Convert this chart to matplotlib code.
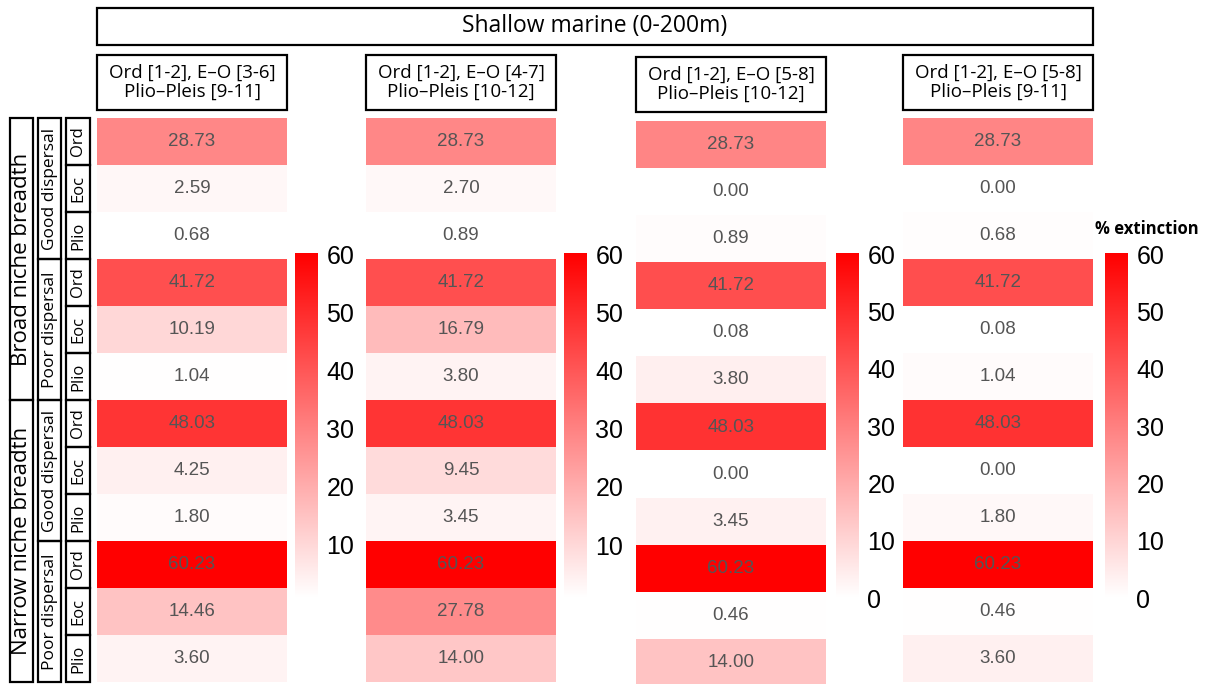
import matplotlib
matplotlib.use("Agg")
import matplotlib.pyplot as plt
import numpy as np
from matplotlib.colors import LinearSegmentedColormap
from matplotlib.patches import Rectangle

W, H = 1211, 684
FONT = "Open Sans"
NUM = "Liberation Sans"

title = "Shallow marine (0-200m)"
col_headers = ["Ord [1-2], E\u2013O [3-6]\nPlio\u2013Pleis [9-11]",
               "Ord [1-2], E\u2013O [4-7]\nPlio\u2013Pleis [10-12]",
               "Ord [1-2], E\u2013O [5-8]\nPlio\u2013Pleis [10-12]",
               "Ord [1-2], E\u2013O [5-8]\nPlio\u2013Pleis [9-11]"]
niche = ["Broad niche breadth", "Narrow niche breadth"]
dispersal = ["Good dispersal", "Poor dispersal"]
periods = ["Ord", "Eoc", "Plio"]

col1 = [28.73, 2.59, 0.68, 41.72, 10.19, 1.04, 48.03, 4.25, 1.80, 60.23, 14.46, 3.60]
col2 = [28.73, 2.70, 0.89, 41.72, 16.79, 3.80, 48.03, 9.45, 3.45, 60.23, 27.78, 14.00]
col3 = [28.73, 0.00, 0.89, 41.72, 0.08, 3.80, 48.03, 0.00, 3.45, 60.23, 0.46, 14.00]
col4 = [28.73, 0.00, 0.68, 41.72, 0.08, 1.04, 48.03, 0.00, 1.80, 60.23, 0.46, 3.60]
columns = [col1, col2, col3, col4]

cmap = LinearSegmentedColormap.from_list("wr", ["#FFFFFF", "#FF0000"])

fig = plt.figure(figsize=(W / 100, H / 100), dpi=100)


def box(x0, y0, x1, y1):
    # pixel coords (top-left origin) -> figure fraction
    return [x0 / W, 1 - y1 / H, (x1 - x0) / W, (y1 - y0) / H]


# overlay for frames and labels, drawn in pixel units
ov = fig.add_axes([0, 0, 1, 1], zorder=5)
ov.set_xlim(0, W); ov.set_ylim(H, 0); ov.axis("off")


def frame(x0, y0, x1, y1, txt, size, rot=0):
    ov.add_patch(Rectangle((x0, y0), x1 - x0, y1 - y0, fill=False,
                           edgecolor="black", linewidth=1.6))
    ov.text((x0 + x1) / 2, (y0 + y1) / 2, txt, ha="center", va="center",
            rotation=rot, fontsize=size, family=FONT, linespacing=1.1)


frame(97, 8, 1093, 45, title, 16.5)

col_x = [97, 366, 636, 903]
hdr_y = [(55, 110), (55, 110), (57, 112), (55, 110)]
cell_y = [(118, 682), (118, 682), (121, 686), (118, 682)]
cb_x = [295, 564, 836, 1105]
cw = 190

for k, vals in enumerate(columns):
    x0 = col_x[k]
    frame(x0, hdr_y[k][0], x0 + cw, hdr_y[k][1], col_headers[k], 13.5)

    v = np.array(vals)
    vmin, vmax = v.min(), v.max()
    ax = fig.add_axes(box(x0, cell_y[k][0], x0 + cw, cell_y[k][1]))
    im = ax.imshow(v.reshape(-1, 1), cmap=cmap, vmin=vmin, vmax=vmax,
                   aspect="auto", interpolation="nearest")
    for i, val in enumerate(vals):
        ax.text(0, i, f"{val:.2f}", ha="center", va="center",
                fontsize=13.5, color="#555555", family=NUM)
    ax.axis("off")

    cax = fig.add_axes(box(cb_x[k], 253, cb_x[k] + 23, 598))
    cb = fig.colorbar(im, cax=cax)
    cb.outline.set_visible(False)
    cb.set_ticks([t for t in range(0, 61, 10) if t >= vmin])
    cax.tick_params(length=0, labelsize=18, pad=6)
    for lab in cax.get_yticklabels():
        lab.set_family(NUM)

ov.text(1147, 229, "% extinction", ha="center", va="center",
        fontsize=12, fontweight="bold", family=FONT)

# row labels on the left
top, rh = 118, 47
for a in range(2):
    y0 = top + a * 6 * rh
    frame(10, y0, 33, y0 + 6 * rh, niche[a], 16, rot=90)
    for b in range(2):
        y1 = y0 + b * 3 * rh
        frame(38, y1, 61, y1 + 3 * rh, dispersal[b], 12.5, rot=90)
        for c in range(3):
            y2 = y1 + c * rh
            frame(66, y2, 90, y2 + rh, periods[c], 12, rot=90)

fig.savefig("out.png", dpi=100)
